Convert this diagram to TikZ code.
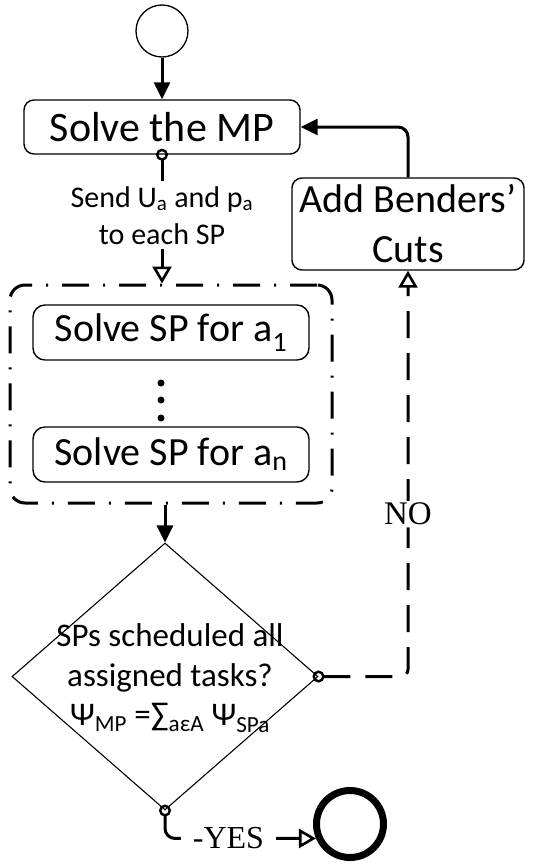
\documentclass[tikz,border=0pt]{standalone}
\usepackage{fontspec}
\setmainfont{Carlito}
\newfontfamily\timesfont{Liberation Serif}
\usetikzlibrary{shapes.geometric,arrows.meta,calc}

\tikzset{
  box/.style={draw, line width=1.4pt, rounded corners=10pt, inner sep=0pt,
    align=center, font=\fontsize{40}{52}\selectfont},
  flow/.style={line width=3pt},
  solid head/.style={-{Triangle[length=17pt,width=16pt]}},
  ring tail/.style={{Circle[open,length=12pt,line width=2.4pt]}-{Triangle[open,length=17pt,width=19pt,line width=2.6pt]}, shorten <=-6pt},
  pt dot/.style={circle, fill, inner sep=0pt, minimum size=7pt},
  label box/.style={fill=white, inner sep=2pt}
}

\begin{document}
\begin{tikzpicture}[x=1pt,y=-1pt]
\useasboundingbox (0,0) rectangle (541,867);

% start / stop
\node[circle, draw, line width=1.3pt, minimum size=52pt, inner sep=0pt] (start) at (162,31) {};
\node[circle, draw, line width=7pt, minimum size=67pt, inner sep=0pt] (stop) at (350,824) {};

% master problem and cuts
\node[box, minimum width=276pt, minimum height=54pt, font=\fontsize{42}{50}\selectfont] (mp) at (162,127) {Solve the MP};
\node[box, minimum width=232pt, minimum height=92pt] (add) at (408,224) {Add Benders’\\[-2pt]Cuts};

% subproblem group
\node[draw, line width=3pt, rounded corners=15pt,
      dash pattern=on 27pt off 14pt on 2pt off 14pt,
      minimum width=322pt, minimum height=218pt] (sp) at (171,394) {};
\node[box, rounded corners=12pt, minimum width=276pt, minimum height=55pt] (sp1) at (171,332.5) {Solve SP for a\textsubscript{1}};
\node[box, rounded corners=12pt, minimum width=276pt, minimum height=55pt] (spn) at (171,454.5) {Solve SP for a\textsubscript{n}};
\node[pt dot] (d1) at (161,383) {};
\node[pt dot] (d2) at (161,400) {};
\node[pt dot] (d3) at (161,418) {};

% decision
\node[diamond, draw, line width=1.1pt, minimum width=306pt, minimum height=267pt, inner sep=0pt] (dia) at (165,676.5) {};
\node[align=center, font=\fontsize{33}{39.5}\selectfont] (q) at (170,678)
  {SPs scheduled all\\assigned tasks?\\Ψ\textsubscript{MP} =∑\textsubscript{aεA} Ψ\textsubscript{SPa}};

% connectors
\draw[flow, solid head] (start) -- (mp);
\draw[flow, ring tail] (mp.south) -- (mp.south |- sp.north)
  node[label box, pos=0.47, align=center, font=\fontsize{30}{37}\selectfont, inner xsep=4pt, inner ysep=5pt]
  (send) {Send U\textsubscript{a} and p\textsubscript{a}\\to each SP};
\draw[flow, solid head, rounded corners=10pt] (add.north) |- (mp.east);
\draw[flow, solid head] (sp.south -| dia.north) -- (dia.north);
\draw[flow, ring tail, dash pattern=on 27pt off 15pt, rounded corners=7pt] (dia.east) -| (add.south)
  node[label box, pos=0.70, font=\timesfont\fontsize{33}{38}\selectfont] (no) {NO};
\draw[flow, ring tail, rounded corners=10pt] (dia.south) |- (stop.203)
  node[label box, pos=0.71, font=\timesfont\fontsize{32}{38}\selectfont, inner xsep=12pt] (yes) {-YES};
\end{tikzpicture}
\end{document}
